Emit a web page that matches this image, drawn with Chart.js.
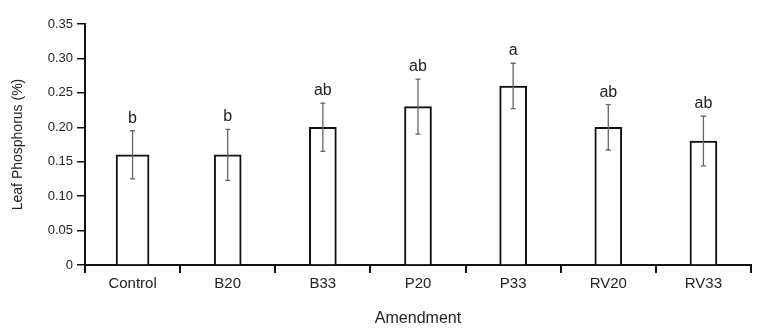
<!DOCTYPE html>
<html>
<head>
<meta charset="utf-8">
<script src="https://cdn.jsdelivr.net/npm/chart.js@4"></script>
<style>
  body { margin: 0; background: #fff; }
  #wrap { width: 762px; height: 331px; }
</style>
</head>
<body>
<div id="wrap"><canvas id="chart"></canvas></div>
<script>
const categories = ['Control', 'B20', 'B33', 'P20', 'P33', 'RV20', 'RV33'];
const phosphorus = [0.16, 0.16, 0.20, 0.23, 0.26, 0.20, 0.18];
const stdError = [0.035, 0.037, 0.035, 0.040, 0.033, 0.033, 0.036];
const groups = ['b', 'b', 'ab', 'ab', 'a', 'ab', 'ab'];
const yTickLabels = ['0', '0.05', '0.10', '0.15', '0.20', '0.25', '0.30', '0.35'];

const FONT = '"Liberation Sans", Arial, Helvetica, sans-serif';

// error bars plus the significance letters above them
const errorBars = {
    id: 'errorBars',
    afterDatasetsDraw(chart) {
        const ctx = chart.ctx;
        const y = chart.scales.y;
        ctx.save();
        chart.data.datasets.forEach((ds, di) => {
            const meta = chart.getDatasetMeta(di);
            meta.data.forEach((bar, i) => {
                if (ds.data[i] == null) return;
                const v = phosphorus[i];
                const top = y.getPixelForValue(v + stdError[i]);
                const bot = y.getPixelForValue(v - stdError[i]);
                const x = bar.x;
                ctx.strokeStyle = '#666';
                ctx.lineWidth = 1.3;
                ctx.beginPath();
                ctx.moveTo(x, top);
                ctx.lineTo(x, bot);
                ctx.moveTo(x - 2.5, top);
                ctx.lineTo(x + 2.5, top);
                ctx.moveTo(x - 2.5, bot);
                ctx.lineTo(x + 2.5, bot);
                ctx.stroke();

                ctx.fillStyle = '#222';
                ctx.font = '16px ' + FONT;
                ctx.textAlign = 'center';
                ctx.textBaseline = 'alphabetic';
                ctx.fillText(groups[i], x, top - 8);
            });
        });
        ctx.restore();
    }
};

const ctx = document.getElementById('chart').getContext('2d');
new Chart(ctx, {
    type: 'bar',
    data: {
        labels: categories,
        datasets: [
            {
                // control bar is drawn a little wider than the rest
                data: phosphorus.map((v, i) => i === 0 ? v : null),
                barThickness: 33
            },
            {
                data: phosphorus.map((v, i) => i === 0 ? null : v),
                barThickness: 27
            }
        ].map(ds => Object.assign(ds, {
            backgroundColor: '#fff',
            borderColor: '#111',
            borderWidth: 2,
            borderSkipped: 'start',
            grouped: false
        }))
    },
    options: {
        responsive: true,
        maintainAspectRatio: false,
        animation: false,
        layout: { padding: { top: 24, right: 11, left: 0, bottom: 0 } },
        plugins: {
            legend: { display: false },
            tooltip: { enabled: false }
        },
        scales: {
            x: {
                offset: true,
                afterFit: s => { s.height = 66; },
                border: { display: true, color: '#111', width: 2 },
                grid: {
                    offset: true,
                    drawOnChartArea: false,
                    drawTicks: true,
                    tickLength: 8,
                    color: '#111',
                    lineWidth: 2
                },
                ticks: {
                    color: '#222',
                    padding: 2,
                    font: { family: FONT, size: 15 }
                },
                title: {
                    display: true,
                    text: 'Amendment',
                    color: '#222',
                    font: { family: FONT, size: 16 },
                    padding: { top: 0, bottom: 3 }
                }
            },
            y: {
                min: 0,
                max: 0.35,
                afterFit: s => { s.width = 85; },
                border: { display: true, color: '#111', width: 2 },
                grid: {
                    drawOnChartArea: false,
                    drawTicks: true,
                    tickLength: 8,
                    color: '#111',
                    lineWidth: 1.5
                },
                ticks: {
                    stepSize: 0.05,
                    color: '#222',
                    padding: 4,
                    font: { family: FONT, size: 13 },
                    callback: (v, i) => yTickLabels[i]
                },
                title: {
                    display: true,
                    text: 'Leaf Phosphorus (%)',
                    color: '#222',
                    font: { family: FONT, size: 14 },
                    padding: { top: 10, bottom: 0 }
                }
            }
        }
    },
    plugins: [errorBars]
});
</script>
</body>
</html>
